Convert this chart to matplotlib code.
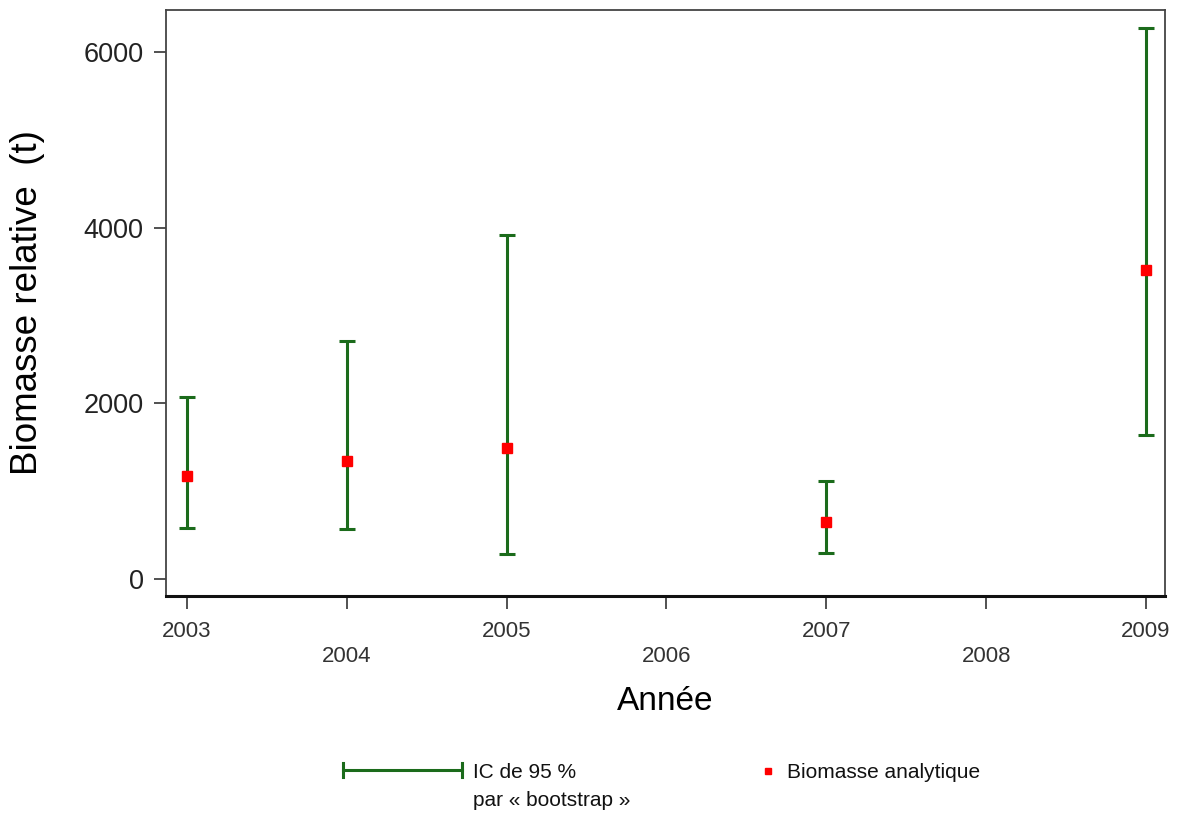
import matplotlib.pyplot as plt
import numpy as np

plt.rcParams['font.family'] = ['Liberation Sans', 'DejaVu Sans']

# biomasse relative par annee (t), IC 95 % par bootstrap
annees = [2003, 2004, 2005, 2007, 2009]
biomasse = [1177, 1348, 1488, 649, 3524]
ic_bas = [577, 565, 285, 296, 1644]
ic_haut = [2074, 2715, 3922, 1112, 6281]

ticks_x = [2003, 2004, 2005, 2006, 2007, 2008, 2009]
ticks_y = [0, 2000, 4000, 6000]

vert = '#1b6b1b'
rouge = '#ff0000'

fig = plt.figure(figsize=(11.77, 8.14), dpi=100)
ax = fig.add_axes([0.141, 0.268, 0.849, 0.720])

b = np.array(biomasse)
err = [b - np.array(ic_bas), np.array(ic_haut) - b]
ax.errorbar(annees, biomasse, yerr=err, fmt='none', ecolor=vert,
            elinewidth=2.2, capsize=6, capthick=2.2, zorder=2)
ax.plot(annees, biomasse, 's', color=rouge, markersize=7, zorder=3)

ax.set_xlim(2002.87, 2009.12)
ax.set_ylim(-194, 6486)

# annees paires decalees sur une deuxieme ligne
labels = [str(a) if i % 2 == 0 else '\n' + str(a) for i, a in enumerate(ticks_x)]
ax.set_xticks(ticks_x)
ax.set_xticklabels(labels, fontsize=16, color='#333333', linespacing=1.25)
ax.set_yticks(ticks_y)
ax.set_yticklabels([str(v) for v in ticks_y], fontsize=19.5, color='#222222')
ax.tick_params(axis='x', length=9, width=1.2, color='#333333', pad=9)
ax.tick_params(axis='y', length=9, width=1.2, color='#333333', pad=7)

for s in ['top', 'right', 'left']:
    ax.spines[s].set_color('#444444')
    ax.spines[s].set_linewidth(1.3)
ax.spines['bottom'].set_color('#111111')
ax.spines['bottom'].set_linewidth(2.2)

ax.set_xlabel('Année', fontsize=24, labelpad=14)
ax.set_ylabel('Biomasse relative  (t)', fontsize=26.5, labelpad=28)

# legende sous le graphique
leg = fig.add_axes([0, 0, 1, 1], facecolor='none')
leg.set_xlim(0, 1177)
leg.set_ylim(814, 0)
leg.axis('off')
leg.plot([343, 462], [770, 770], color=vert, lw=2.2)
leg.plot([343, 343], [763, 777], color=vert, lw=2.2)
leg.plot([462, 462], [763, 777], color=vert, lw=2.2)
leg.text(473, 772, 'IC de 95 %', fontsize=15, va='center', ha='left', color='#111111')
leg.text(473, 801, 'par « bootstrap »', fontsize=15, va='center', ha='left', color='#111111')
leg.plot([768], [771], 's', color=rouge, markersize=5)
leg.text(787, 772, 'Biomasse analytique', fontsize=15, va='center', ha='left', color='#111111')

fig.savefig('out.png', dpi=100)
